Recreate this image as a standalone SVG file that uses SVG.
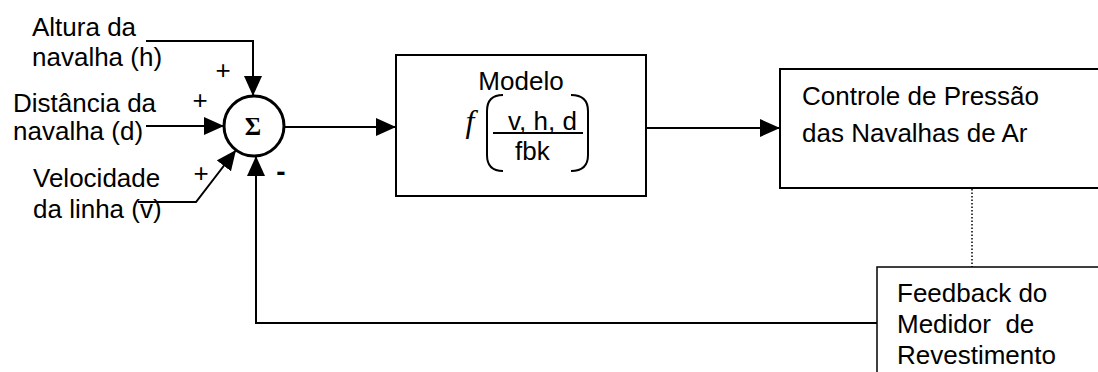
<svg xmlns="http://www.w3.org/2000/svg" width="1098" height="372" viewBox="0 0 1098 372">
  <style>
    .t { font-family: "Liberation Sans", Arial, sans-serif; font-size: 26px; fill: #000; }
    .wire { fill: none; stroke: #000; stroke-width: 2; }
    .box { fill: #fff; stroke: #000; stroke-width: 2; }
  </style>
  <defs>
    <marker id="arrow" markerUnits="userSpaceOnUse" markerWidth="20" markerHeight="18" refX="20" refY="9" orient="auto">
      <path d="M0,0 L20,9 L0,18 z" fill="#000"/>
    </marker>
  </defs>

  <rect width="1098" height="372" fill="#fff"/>

  <!-- connectors -->
  <g id="connectors">
    <!-- altura (h) into the summing junction -->
    <polyline class="wire" points="146,41 253,41 253,96" marker-end="url(#arrow)"/>
    <!-- distancia (d) -->
    <line class="wire" x1="146" y1="126" x2="224" y2="126" marker-end="url(#arrow)"/>
    <!-- velocidade (v) -->
    <polyline class="wire" points="138,202 196,202 236,150" marker-end="url(#arrow)"/>
    <!-- junction to model -->
    <line class="wire" x1="284" y1="127" x2="396" y2="127" marker-end="url(#arrow)"/>
    <!-- model to pressure control -->
    <line class="wire" x1="646" y1="128" x2="780" y2="128" marker-end="url(#arrow)"/>
    <!-- pressure control to feedback gauge (dotted) -->
    <line x1="972" y1="189" x2="972" y2="267" stroke="#000" stroke-width="1.5" stroke-dasharray="1.5 2"/>
    <!-- feedback loop back to the junction -->
    <polyline class="wire" points="877,323 256,323 256,156" marker-end="url(#arrow)"/>
  </g>

  <!-- input labels -->
  <g id="input-h">
    <text class="t" x="32" y="36">Altura da</text>
    <text class="t" x="32" y="66">navalha (h)</text>
    <text class="t" x="223" y="79" text-anchor="middle">+</text>
  </g>
  <g id="input-d">
    <text class="t" x="13" y="112">Distância da</text>
    <text class="t" x="13" y="140">navalha (d)</text>
    <text class="t" x="200" y="109" text-anchor="middle">+</text>
  </g>
  <g id="input-v">
    <text class="t" x="33" y="187">Velocidade</text>
    <text class="t" x="33" y="218">da linha (v)</text>
    <text class="t" x="201" y="182" text-anchor="middle">+</text>
  </g>

  <!-- summing junction -->
  <g id="sum">
    <circle cx="254" cy="126" r="30" fill="#fff" stroke="#000" stroke-width="3"/>
    <text x="253" y="135" text-anchor="middle" style="font-family:'Liberation Serif','Times New Roman',serif;font-size:25px;font-weight:bold">Σ</text>
    <text class="t" x="281" y="181" text-anchor="middle" style="font-weight:bold;font-size:28px">-</text>
  </g>

  <!-- model block -->
  <g id="modelo">
    <rect class="box" x="396" y="55" width="250" height="141"/>
    <text class="t" x="521" y="90" text-anchor="middle">Modelo</text>
    <text x="470" y="132" text-anchor="middle" style="font-family:'Liberation Serif','Times New Roman',serif;font-size:32px;font-style:italic">f</text>
    <path class="wire" d="M503,95 Q487,95 487,111 L487,155 Q487,171 503,171"/>
    <path class="wire" d="M571,95 Q588,95 588,111 L588,155 Q588,171 571,171"/>
    <text class="t" x="508" y="130">v, h, d</text>
    <line x1="493" y1="133" x2="583" y2="133" stroke="#000" stroke-width="2"/>
    <text class="t" x="515" y="160">fbk</text>
  </g>

  <!-- pressure control block -->
  <g id="controle">
    <rect class="box" x="780" y="69" width="330" height="119"/>
    <text class="t" x="802" y="105">Controle de Pressão</text>
    <text class="t" x="802" y="142">das Navalhas de Ar</text>
  </g>

  <!-- coating gauge feedback block -->
  <g id="feedback">
    <rect x="877" y="267" width="240" height="120" fill="#fff" stroke="#000" stroke-width="1.5"/>
    <text class="t" x="897" y="302">Feedback do</text>
    <text class="t" x="897" y="333" xml:space="preserve">Medidor  de</text>
    <text class="t" x="897" y="364">Revestimento</text>
  </g>
</svg>
